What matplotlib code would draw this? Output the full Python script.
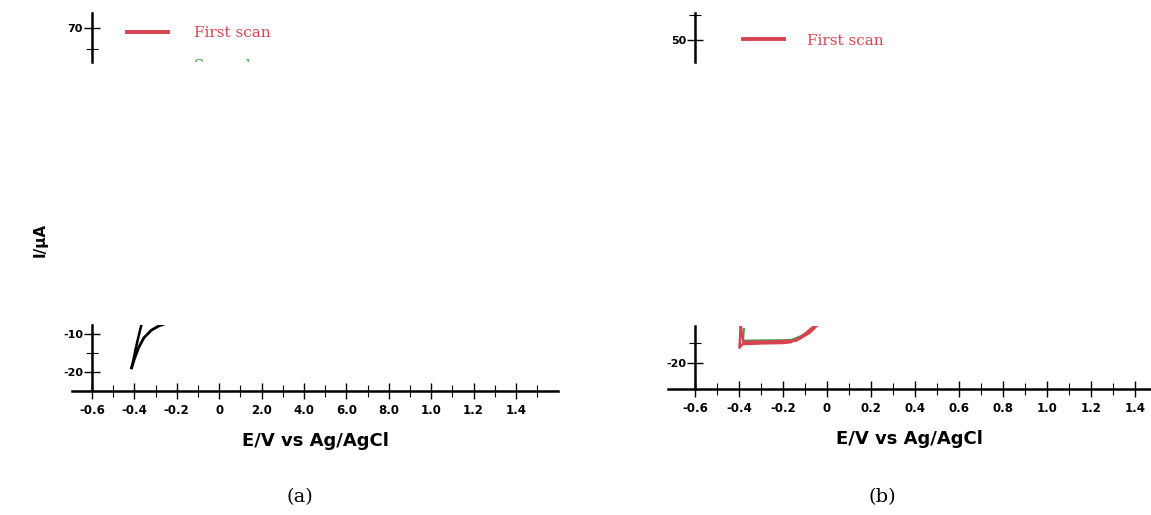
import matplotlib
matplotlib.use("Agg")
import matplotlib.pyplot as plt
from matplotlib.ticker import FixedLocator

plt.rcParams["axes.unicode_minus"] = False

# panel (a): black curve near -0.4 V (two branches of the loop)
a_fwd_e = [-0.413, -0.405, -0.395, -0.383, -0.370, -0.362]
a_fwd_i = [-18.9, -17.0, -14.2, -11.3, -8.3, -6.8]
a_rev_e = [-0.413, -0.400, -0.380, -0.355, -0.320, -0.285, -0.255]
a_rev_i = [-18.9, -16.6, -13.6, -11.0, -9.0, -7.9, -7.3]

# panel (b): first scan (red) and second scan (green)
b_first_e = [-0.393, -0.395, -0.398, -0.385, -0.30, -0.20, -0.165, -0.12, -0.068, -0.04,
             -0.08, -0.14, -0.25, -0.38, -0.393]
b_first_i = [-10.5, -13.5, -16.2, -15.3, -15.1, -15.0, -14.8, -13.6, -11.2, -10.3,
             -12.5, -14.4, -14.6, -14.7, -10.5]
b_second_e = [-0.378, -0.382, -0.37, -0.30, -0.20, -0.16, -0.12, -0.09]
b_second_i = [-11.5, -14.7, -14.4, -14.35, -14.3, -14.2, -13.3, -12.4]

ticks = [-0.6, -0.4, -0.2, 0.0, 0.2, 0.4, 0.6, 0.8, 1.0, 1.2, 1.4]
minor_x = [-0.5, -0.3, -0.1, 0.1, 0.3, 0.5, 0.7, 0.9, 1.1, 1.3, 1.5]
labels_a = ["-0.6", "-0.4", "-0.2", "0", "2.0", "4.0", "6.0", "8.0", "1.0", "1.2", "1.4"]
labels_b = ["-0.6", "-0.4", "-0.2", "0", "0.2", "0.4", "0.6", "0.8", "1.0", "1.2", "1.4"]

W, H = 1151, 515
fig = plt.figure(figsize=(W / 100, H / 100), dpi=100)


def box(x0, x1, ytop, ybot):
    return [x0 / W, 1 - ybot / H, (x1 - x0) / W, (ybot - ytop) / H]


red = "#d9434f"
green = "#3aa84a"
lw_ax = 1.8


def style_y(ax, major, minor):
    ax.spines["left"].set_position(("data", -0.6))
    ax.spines["left"].set_linewidth(lw_ax)
    ax.yaxis.set_major_locator(FixedLocator(major))
    ax.yaxis.set_minor_locator(FixedLocator(minor))
    ax.tick_params(which="major", direction="inout", length=11, width=1.0, pad=2)
    ax.tick_params(which="minor", direction="inout", length=8, width=0.8)
    ax.tick_params(axis="y", labelsize=8, pad=1)
    for t in ax.get_yticklabels():
        t.set_fontweight("bold")
    ax.patch.set_visible(False)


def style_bottom(ax, xlim, ylim, labels):
    ax.set_xlim(*xlim)
    ax.set_ylim(*ylim)
    for s in ("top", "right"):
        ax.spines[s].set_visible(False)
    ax.spines["bottom"].set_linewidth(lw_ax)
    ax.set_xticks(ticks)
    ax.set_xticklabels(labels, fontsize=8.5, fontweight="bold")
    ax.xaxis.set_minor_locator(FixedLocator(minor_x))
    style_y(ax, [-20, -10], [-15])
    ax.tick_params(axis="x", pad=4)


def style_top(ax, xlim, ylim, major, minor):
    ax.set_xlim(*xlim)
    ax.set_ylim(*ylim)
    for s in ("top", "right", "bottom"):
        ax.spines[s].set_visible(False)
    ax.set_xticks([])
    style_y(ax, major, minor)


# ---- panel (a)
xa = (-0.694, 1.598)
axa = fig.add_axes(box(72, 558, 325, 391))
style_bottom(axa, xa, (-25, -7.63), labels_a)
axa.plot(a_fwd_e, a_fwd_i, color="black", lw=1.8)
axa.plot(a_rev_e, a_rev_i, color="black", lw=2.0)
axa.set_xlabel("E/V vs Ag/AgCl", fontsize=13, fontweight="bold", labelpad=11)

ta = fig.add_axes(box(72, 558, 13, 62))
style_top(ta, xa, (61.9, 73.6), [70], [65])
ta.plot([-0.435, -0.24], [69.0, 69.0], color=red, lw=2.8)
ta.text(-0.12, 68.8, "First scan", color=red, fontsize=11, family="DejaVu Serif",
        va="center")
ta.text(-0.12, 60.9, "Second scan", color=green, fontsize=11, family="DejaVu Serif",
        va="center", clip_on=True)

# ---- panel (b)
xb = (-0.723, 1.473)
axb = fig.add_axes(box(668, 1151, 326, 389))
style_bottom(axb, xb, (-26.5, -10.75), labels_b)
axb.plot(b_second_e, b_second_i, color=green, lw=1.5)
axb.plot(b_first_e, b_first_i, color=red, lw=1.8)
axb.set_xlabel("E/V vs Ag/AgCl", fontsize=13, fontweight="bold", labelpad=11)

tb = fig.add_axes(box(668, 1151, 13, 62))
style_top(tb, xb, (45.6, 55.4), [50], [55])
tb.plot([-0.38, -0.195], [50.2, 50.2], color=red, lw=2.8)
tb.text(-0.09, 49.8, "First scan", color=red, fontsize=11, family="DejaVu Serif",
        va="center")

fig.text(40 / W, 1 - 240 / H, "I/\u03bcA", rotation=90, fontsize=11, fontweight="bold",
         ha="center", va="center")
fig.text(300 / W, 1 - 497 / H, "(a)", fontsize=14, family="DejaVu Serif",
         ha="center", va="center")
fig.text(882 / W, 1 - 497 / H, "(b)", fontsize=14, family="DejaVu Serif",
         ha="center", va="center")

fig.savefig("out.png", dpi=100)
